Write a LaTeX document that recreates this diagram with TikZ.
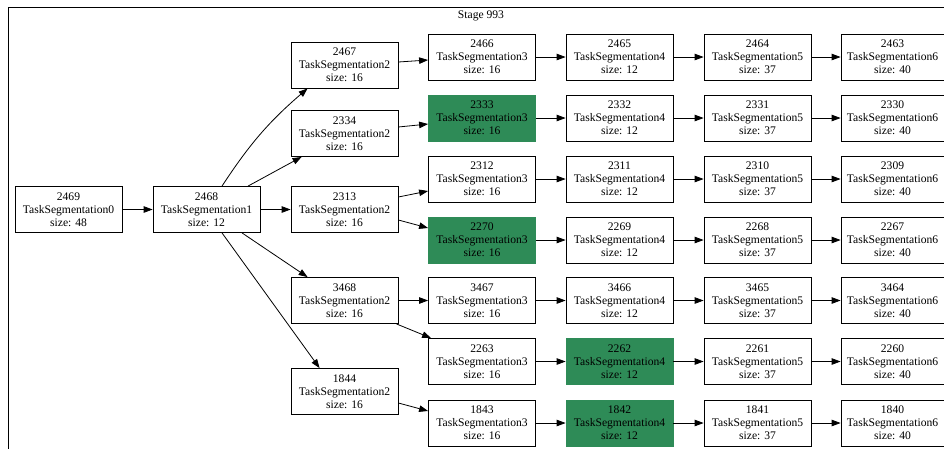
\documentclass[tikz,border=0pt]{standalone}
\usepackage{fontspec}
\setmainfont{Liberation Serif}
\usetikzlibrary{arrows.meta}
\definecolor{sg}{HTML}{2E8B57}
\begin{document}
\begin{tikzpicture}[x=1pt,y=-1pt,
 tbox/.style={draw=black,line width=0.8pt,fill=white,minimum width=107pt,minimum height=46pt,inner sep=0pt,align=center,font=\fontsize{11.6}{13}\selectfont},
 gbox/.style={tbox,draw=sg,fill=sg},
 lbox/.style={tbox,minimum width=103pt},
 edge/.style={line width=0.8pt,-{Triangle[length=9pt,width=6.5pt]}}]
\useasboundingbox (0,0) rectangle (944,448);
\clip (0,0) rectangle (944,448);
\draw[line width=0.8pt] (8,7) rectangle (1000,500);
\node[font=\fontsize{11.6}{13}\selectfont] (title) at (481,16) {Stage 993};
% T0, T1
\node[tbox] (n2469) at (68.5,209.5) {2469\\TaskSegmentation0\\size: 48};
\node[tbox] (n2468) at (206.5,209.5) {2468\\TaskSegmentation1\\size: 12};
% T2
\node[tbox] (n2467) at (344.5,65) {2467\\TaskSegmentation2\\size: 16};
\node[tbox] (n2334) at (344.5,133.5) {2334\\TaskSegmentation2\\size: 16};
\node[tbox] (n2313) at (344.5,209.5) {2313\\TaskSegmentation2\\size: 16};
\node[tbox] (n3468) at (344.5,300.5) {3468\\TaskSegmentation2\\size: 16};
\node[tbox] (n1844) at (344.5,391.5) {1844\\TaskSegmentation2\\size: 16};
% T3
\node[tbox] (n2466) at (482,57) {2466\\TaskSegmentation3\\size: 16};
\node[gbox] (n2333) at (482,118) {2333\\TaskSegmentation3\\size: 16};
\node[tbox] (n2312) at (482,179) {2312\\TaskSegmentation3\\size: 16};
\node[gbox] (n2270) at (482,240) {2270\\TaskSegmentation3\\size: 16};
\node[tbox] (n3467) at (482,300.5) {3467\\TaskSegmentation3\\size: 16};
\node[tbox] (n2263) at (482,361.5) {2263\\TaskSegmentation3\\size: 16};
\node[tbox] (n1843) at (482,423) {1843\\TaskSegmentation3\\size: 16};
% T4
\node[tbox] (n2465) at (619.5,57) {2465\\TaskSegmentation4\\size: 12};
\node[tbox] (n2332) at (619.5,118) {2332\\TaskSegmentation4\\size: 12};
\node[tbox] (n2311) at (619.5,179) {2311\\TaskSegmentation4\\size: 12};
\node[tbox] (n2269) at (619.5,240) {2269\\TaskSegmentation4\\size: 12};
\node[tbox] (n3466) at (619.5,300.5) {3466\\TaskSegmentation4\\size: 12};
\node[gbox] (n2262) at (619.5,361.5) {2262\\TaskSegmentation4\\size: 12};
\node[gbox] (n1842) at (619.5,423) {1842\\TaskSegmentation4\\size: 12};
% T5
\node[tbox] (n2464) at (757.5,57) {2464\\TaskSegmentation5\\size: 37};
\node[tbox] (n2331) at (757.5,118) {2331\\TaskSegmentation5\\size: 37};
\node[tbox] (n2310) at (757.5,179) {2310\\TaskSegmentation5\\size: 37};
\node[tbox] (n2268) at (757.5,240) {2268\\TaskSegmentation5\\size: 37};
\node[tbox] (n3465) at (757.5,300.5) {3465\\TaskSegmentation5\\size: 37};
\node[tbox] (n2261) at (757.5,361.5) {2261\\TaskSegmentation5\\size: 37};
\node[tbox] (n1841) at (757.5,423) {1841\\TaskSegmentation5\\size: 37};
% T6
\node[lbox] (n2463) at (892.5,57) {2463\\TaskSegmentation6\\size: 40};
\node[lbox] (n2330) at (892.5,118) {2330\\TaskSegmentation6\\size: 40};
\node[lbox] (n2309) at (892.5,179) {2309\\TaskSegmentation6\\size: 40};
\node[lbox] (n2267) at (892.5,240) {2267\\TaskSegmentation6\\size: 40};
\node[lbox] (n3464) at (892.5,300.5) {3464\\TaskSegmentation6\\size: 40};
\node[lbox] (n2260) at (892.5,361.5) {2260\\TaskSegmentation6\\size: 40};
\node[lbox] (n1840) at (892.5,423) {1840\\TaskSegmentation6\\size: 40};
% edges
\draw[edge] (n2469) -- (n2468);
\draw[edge] ([xshift=15.5pt]n2468.north) to[bend left=8] ([xshift=17pt]n2467.south west);
\draw[edge] ([xshift=41.5pt]n2468.north) -- ([xshift=11pt]n2334.south west);
\draw[edge] (n2468) -- (n2313);
\draw[edge] ([xshift=35.5pt]n2468.south) -- ([xshift=17pt]n3468.north west);
\draw[edge] ([xshift=15.5pt]n2468.south) -- ([xshift=29pt]n1844.north west);
\draw[edge] ([yshift=3pt]n2467.east) -- ([yshift=-3pt]n2466.west);
\draw[edge] ([yshift=6.5pt]n2334.east) -- ([yshift=-6pt]n2333.west);
\draw[edge] ([yshift=12.5pt]n2313.east) -- ([yshift=-12pt]n2312.west);
\draw[edge] ([yshift=-10.5pt]n2313.east) -- ([yshift=12pt]n2270.west);
\draw[edge] (n3468) -- (n3467);
\draw[edge] ([xshift=-2pt]n3468.south east) -- ([xshift=3pt]n2263.north west);
\draw[edge] ([yshift=-11.5pt]n1844.east) -- ([yshift=12pt]n1843.west);
\foreach \a/\b/\c/\d in {2466/2465/2464/2463,2333/2332/2331/2330,2312/2311/2310/2309,2270/2269/2268/2267,3467/3466/3465/3464,2263/2262/2261/2260,1843/1842/1841/1840}{
  \draw[edge] (n\a) -- (n\b);
  \draw[edge] (n\b) -- (n\c);
  \draw[edge] (n\c) -- (n\d);
}
\end{tikzpicture}
\end{document}
